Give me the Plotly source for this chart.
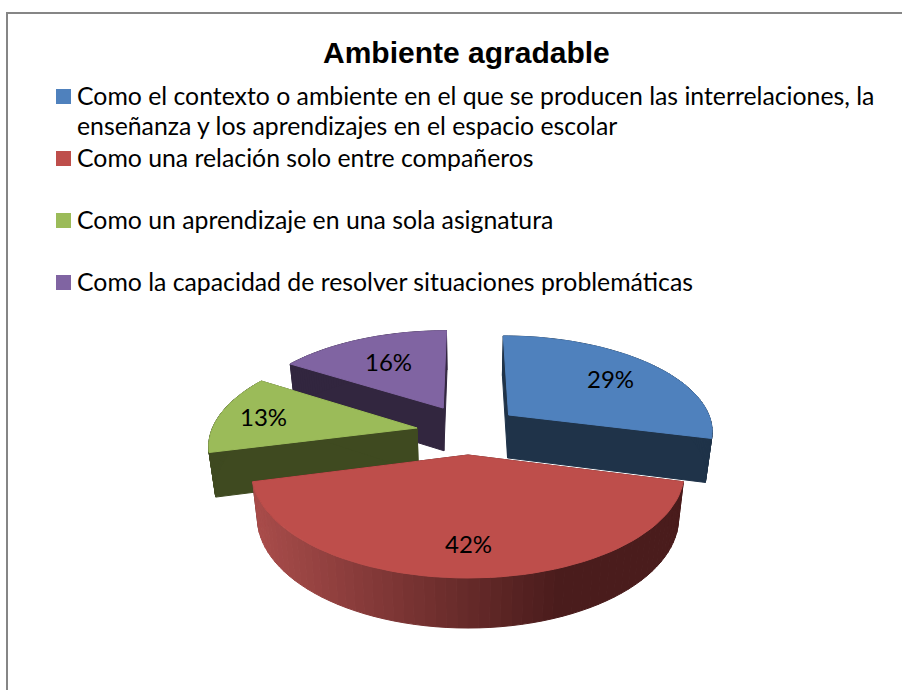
import numpy as np
import plotly.graph_objects as go

title = "Ambiente agradable"
categories = [
    "Como el contexto o ambiente en el que se producen las interrelaciones, la<br>enseñanza y los aprendizajes en el espacio escolar",
    "Como una relación solo entre compañeros",
    "Como un aprendizaje en una sola asignatura",
    "Como la capacidad de resolver situaciones problemáticas",
]
values = [29, 42, 13, 16]

top_colors = ['#4F81BD', '#BE4E4B', '#9BBB59', '#8064A2']
side_colors = ['#1F3349', '#4A1C1C', '#3F4A20', '#32263F']

# how far each slice is pulled out, in pie radii (sideways, backwards)
explode = [(0.2027, 0.413), (0, 0), (-0.249, 0.273), (-0.125, 0.49)]
label_r = [0.70, 0.75, 0.78, 0.65]
draw_order = [3, 2, 0, 1]

# tilted view of the pie: top plane and bottom plane
CX, K = 468, 0.16
TOP = dict(a=213.5, b=103.3, cy=455)
BOTTOM = dict(a=208, b=107.8, cy=499.7)


def project(x, v, plane):
    d = 1 + K * v
    return CX + plane['a'] * x / d, plane['cy'] - plane['b'] * v / d


def rim(theta, ex):
    return ex[0] + np.sin(theta), ex[1] + np.cos(theta)


def poly(fig, xs, ys, color):
    fig.add_trace(go.Scatter(
        x=list(xs) + [xs[0]], y=list(ys) + [ys[0]],
        mode='lines', fill='toself', fillcolor=color,
        line=dict(color=color, width=1),
        hoverinfo='skip', showlegend=False))


def mix(c1, c2, t):
    t = min(max(t, 0), 1)
    return 'rgb(%d,%d,%d)' % tuple(c1[i] + (c2[i] - c1[i]) * t for i in range(3))


fig = go.Figure()

edges = np.concatenate([[0], np.cumsum(values)]) / sum(values) * 2 * np.pi

for i in draw_order:
    ex = explode[i]
    th = np.linspace(edges[i], edges[i + 1], 61)
    rx, rv = rim(th, ex)

    # cut faces
    for t in (edges[i], edges[i + 1]):
        ox, ov = rim(t, ex)
        ax, ay = project(ex[0], ex[1], TOP)
        bx, by = project(ox, ov, TOP)
        cx, cy = project(ox, ov, BOTTOM)
        dx, dy = project(ex[0], ex[1], BOTTOM)
        poly(fig, [ax, bx, cx, dx], [ay, by, cy, dy], side_colors[i])

    # outer wall, red one gets the gradient
    for j in range(len(th) - 1):
        x1, y1 = project(rx[j], rv[j], TOP)
        x2, y2 = project(rx[j + 1], rv[j + 1], TOP)
        x3, y3 = project(rx[j + 1], rv[j + 1], BOTTOM)
        x4, y4 = project(rx[j], rv[j], BOTTOM)
        color = side_colors[i]
        if i == 1:
            color = mix((74, 28, 28), (168, 76, 74), (565 - x1) / 305)
        poly(fig, [x1, x2, x3, x4], [y1, y2, y3, y4], color)

    # top face
    tx, ty = project(np.concatenate([[ex[0]], rx]), np.concatenate([[ex[1]], rv]), TOP)
    poly(fig, tx, ty, top_colors[i])

# percent labels
for i in range(len(values)):
    mid = (edges[i] + edges[i + 1]) / 2
    lx, ly = project(explode[i][0] + label_r[i] * np.sin(mid),
                     explode[i][1] + label_r[i] * np.cos(mid), TOP)
    fig.add_annotation(x=lx, y=ly, text="%d%%" % values[i], showarrow=False,
                       font=dict(family="Lato", size=24, color='black'))

# legend by hand, the first entry wraps
legend_y = [97, 159, 221, 283]
for i in range(len(categories)):
    y0 = legend_y[i] - 8
    fig.add_shape(type='rect', x0=56, x1=71, y0=y0, y1=y0 + 15,
                  fillcolor=top_colors[i], line_width=0)
    for n, line in enumerate(categories[i].split("<br>")):
        fig.add_annotation(x=75, y=legend_y[i] - 1.5 + 30 * n,
                           text=line, showarrow=False,
                           xanchor='left', yanchor='middle', align='left',
                           font=dict(family="Lato", size=24.8, color='black'))

fig.add_annotation(x=466, y=52, text=title, showarrow=False,
                   font=dict(family="Liberation Sans", size=30, color='black', weight='bold'))

fig.add_shape(type='rect', x0=7, y0=13, x1=920, y1=720,
              line=dict(color='#868686', width=2), fillcolor='rgba(0,0,0,0)')

fig.update_xaxes(range=[0, 902], visible=False)
fig.update_yaxes(range=[690, 0], visible=False)
fig.update_layout(width=902, height=690, margin=dict(l=0, r=0, t=0, b=0),
                  plot_bgcolor='white', paper_bgcolor='white', showlegend=False)

# page margin would push the figure 8px in
fig.write_html("out.html", config=dict(displayModeBar=False),
               post_script="document.body.style.margin='0';")
